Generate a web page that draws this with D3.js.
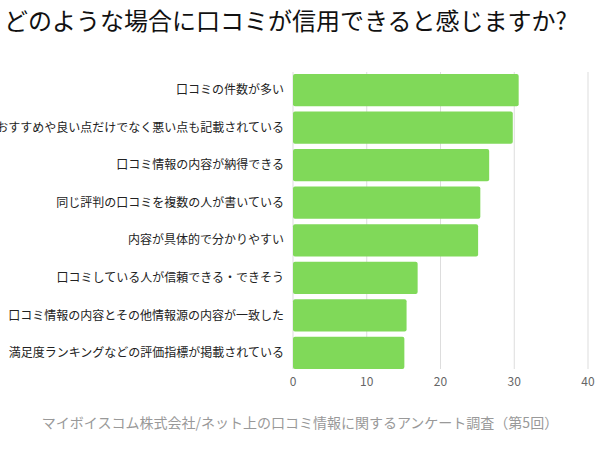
<!DOCTYPE html>
<html><head><meta charset="utf-8">
<script src="https://cdn.jsdelivr.net/npm/d3@7"></script>
<style>body{margin:0;background:#fff}text{font-family:"Noto Sans CJK JP",sans-serif}</style>
</head><body><svg id="c" width="600" height="450"></svg>
<script>
/* data */
var categories = ["口コミの件数が多い","おすすめや良い点だけでなく悪い点も記載されている","口コミ情報の内容が納得できる","同じ評判の口コミを複数の人が書いている","内容が具体的で分かりやすい","口コミしている人が信頼できる・できそう","口コミ情報の内容とその他情報源の内容が一致した","満足度ランキングなどの評価指標が掲載されている"];
var values = [30.6, 29.8, 26.6, 25.4, 25.1, 16.9, 15.4, 15.1];
var ticks = [0, 10, 20, 30, 40];

var svg = d3.select('#c');
var x = d3.scaleLinear().domain([0, 40]).range([293, 588]);
var y = d3.scaleBand().domain(categories).range([74, 369]).paddingInner(0.14).paddingOuter(0);

svg.append('text').attr('x', 4).attr('y', 30).attr('font-size', 24).attr('fill', '#111')
	.text('どのような場合に口コミが信用できると感じますか?');

svg.selectAll('.grid').data(ticks).enter().append('line')
	.attr('x1', function(d){return x(d)}).attr('x2', function(d){return x(d)})
	.attr('y1', 72).attr('y2', 369).attr('stroke', '#ddd');

svg.selectAll('.bar').data(values).enter().append('rect')
	.attr('x', x(0)).attr('y', function(d, i){return y(categories[i])})
	.attr('width', function(d){return x(d) - x(0)}).attr('height', y.bandwidth())
	.attr('rx', 2).attr('fill', '#80d959');

svg.selectAll('.lab').data(categories).enter().append('text')
	.attr('x', 284).attr('y', function(d){return y(d) + y.bandwidth()/2})
	.attr('dy', '0.35em').attr('text-anchor', 'end').attr('font-size', 12).attr('fill', '#222')
	.text(function(d){return d});

svg.selectAll('.tick').data(ticks).enter().append('text')
	.attr('x', function(d){return x(d)}).attr('y', 386).attr('text-anchor', 'middle')
	.attr('font-size', 12).attr('fill', '#666').text(function(d){return d});

svg.append('text').attr('x', 300).attr('y', 428).attr('text-anchor', 'middle')
	.attr('font-size', 14).attr('fill', '#999')
	.text('マイボイスコム株式会社/ネット上の口コミ情報に関するアンケート調査（第5回）');
</script></body></html>
